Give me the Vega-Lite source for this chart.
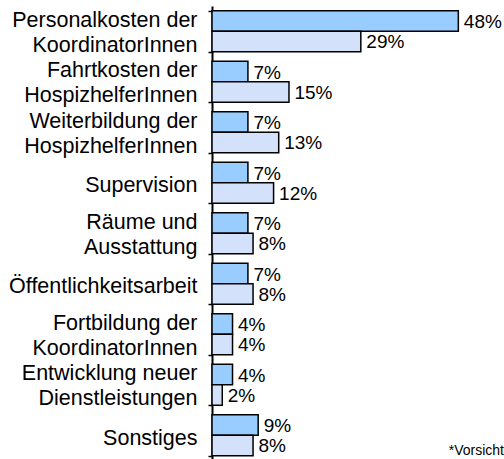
{
  "$schema": "https://vega.github.io/schema/vega-lite/v6.json",
  "width": 292,
  "height": 454.5,
  "autosize": {"type": "none"},
  "padding": {"left": 212, "top": 6, "right": 0, "bottom": 0},
  "background": "white",
  "config": {"view": {"stroke": null}, "font": "Liberation Sans"},
  "title": {
    "text": "*Vorsicht",
    "orient": "bottom",
    "anchor": "end",
    "frame": "group",
    "fontSize": 14,
    "fontWeight": "normal",
    "font": "Liberation Sans",
    "color": "black",
    "baseline": "alphabetic",
    "offset": -6
  },
  "data": {
    "values": [
      {"kategorie": "Personalkosten der|KoordinatorInnen", "reihe": "Reihe 1", "wert": 0.48},
      {"kategorie": "Personalkosten der|KoordinatorInnen", "reihe": "Reihe 2", "wert": 0.29},
      {"kategorie": "Fahrtkosten der|HospizhelferInnen", "reihe": "Reihe 1", "wert": 0.07},
      {"kategorie": "Fahrtkosten der|HospizhelferInnen", "reihe": "Reihe 2", "wert": 0.15},
      {"kategorie": "Weiterbildung der|HospizhelferInnen", "reihe": "Reihe 1", "wert": 0.07},
      {"kategorie": "Weiterbildung der|HospizhelferInnen", "reihe": "Reihe 2", "wert": 0.13},
      {"kategorie": "Supervision", "reihe": "Reihe 1", "wert": 0.07},
      {"kategorie": "Supervision", "reihe": "Reihe 2", "wert": 0.12},
      {"kategorie": "Räume und|Ausstattung", "reihe": "Reihe 1", "wert": 0.07},
      {"kategorie": "Räume und|Ausstattung", "reihe": "Reihe 2", "wert": 0.08},
      {"kategorie": "Öffentlichkeitsarbeit", "reihe": "Reihe 1", "wert": 0.07},
      {"kategorie": "Öffentlichkeitsarbeit", "reihe": "Reihe 2", "wert": 0.08},
      {"kategorie": "Fortbildung der|KoordinatorInnen", "reihe": "Reihe 1", "wert": 0.04},
      {"kategorie": "Fortbildung der|KoordinatorInnen", "reihe": "Reihe 2", "wert": 0.04},
      {"kategorie": "Entwicklung neuer|Dienstleistungen", "reihe": "Reihe 1", "wert": 0.04},
      {"kategorie": "Entwicklung neuer|Dienstleistungen", "reihe": "Reihe 2", "wert": 0.02},
      {"kategorie": "Sonstiges", "reihe": "Reihe 1", "wert": 0.09},
      {"kategorie": "Sonstiges", "reihe": "Reihe 2", "wert": 0.08}
    ]
  },
  "encoding": {
    "y": {
      "field": "kategorie",
      "type": "nominal",
      "sort": null,
      "scale": {"paddingInner": 0.19, "paddingOuter": 0.095},
      "axis": {
        "title": null,
        "domain": true,
        "domainColor": "black",
        "domainWidth": 2,
        "ticks": true,
        "tickBand": "extent",
        "tickColor": "black",
        "tickWidth": 1.5,
        "tickSize": 4,
        "labelFont": "Liberation Sans",
        "labelFontSize": 21.5,
        "labelColor": "black",
        "labelPadding": 11,
        "labelLineHeight": 25,
        "labelLimit": 0,
        "labelOverlap": false,
        "labelAlign": "right",
        "labelBaseline": "middle",
        "labelOffset": {"condition": {"test": "indexof(datum.label, '|') >= 0", "value": -11}, "value": 3},
        "labelExpr": "split(datum.label, '|')"
      }
    },
    "yOffset": {
      "field": "reihe",
      "type": "nominal",
      "sort": ["Reihe 1", "Reihe 2"],
      "scale": {"paddingInner": 0, "paddingOuter": 0}
    },
    "x": {
      "field": "wert",
      "type": "quantitative",
      "scale": {"domain": [0, 0.569], "nice": false},
      "axis": null
    }
  },
  "layer": [
    {
      "mark": {"type": "bar", "stroke": "black", "strokeWidth": 1.5},
      "encoding": {
        "color": {
          "field": "reihe",
          "type": "nominal",
          "scale": {"domain": ["Reihe 1", "Reihe 2"], "range": ["#99CCFF", "#D3E2FA"]},
          "legend": null
        }
      }
    },
    {
      "mark": {"type": "text", "align": "left", "baseline": "middle", "dx": 5.5, "dy": 1, "fontSize": 19, "font": "Liberation Sans", "color": "black"},
      "encoding": {
        "text": {"field": "wert", "type": "quantitative", "format": ".0%"}
      }
    }
  ]
}
